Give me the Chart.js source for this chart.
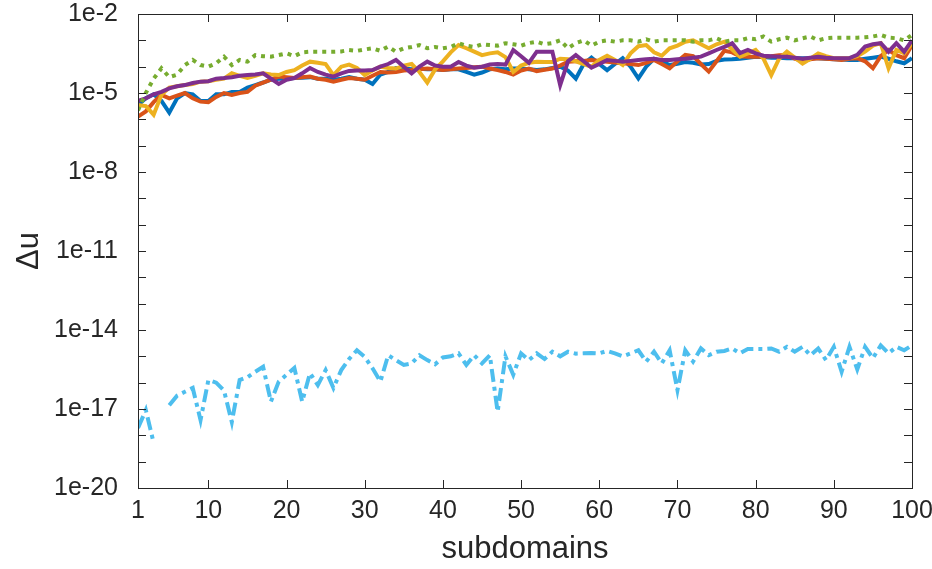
<!DOCTYPE html>
<html>
<head>
<meta charset="utf-8">
<script src="https://cdn.jsdelivr.net/npm/chart.js@4.4.1/dist/chart.umd.min.js"></script>
<style>
  html, body { margin: 0; padding: 0; background: #fff; }
  #wrap { width: 932px; height: 569px; }
</style>
</head>
<body>
<div id="wrap"><canvas id="chart" width="932" height="569"></canvas></div>
<script>
// x categories: subdomain index 1..100
var subdomains = Array.from({ length: 100 }, function (_, i) { return i + 1; });
var xTicks = [1, 10, 20, 30, 40, 50, 60, 70, 80, 90, 100];
var yTickExps = [-20, -19, -18, -17, -16, -15, -14, -13, -12, -11, -10, -9, -8, -7, -6, -5, -4, -3, -2];
var yLabelExps = [-20, -17, -14, -11, -8, -5, -2];

var blueVals = [3.5e-6, 6.3e-6, 8.9e-6, 5e-6, 1.8e-6, 6.3e-6, 1e-5, 8.9e-6, 5e-6, 5e-6,
  8.9e-6, 8.9e-6, 1.1e-5, 1.1e-5, 1.6e-5, 2e-5, 2.5e-5, 3.2e-5, 3.5e-5, 3.5e-5,
  3.7e-5, 3.8e-5, 4e-5, 3.5e-5, 3.5e-5, 3.2e-5, 3.5e-5, 4e-5, 3.5e-5, 3.2e-5,
  2.2e-5, 5e-5, 6.3e-5, 8.9e-5, 8.5e-5, 7.9e-5, 8.3e-5, 7.9e-5, 7.9e-5, 7.4e-5,
  7.9e-5, 7.9e-5, 6.3e-5, 5e-5, 6e-5, 7.9e-5, 8.5e-5, 7.9e-5, 8.5e-5, 8.5e-5,
  7.9e-5, 7.4e-5, 7.9e-5, 8.9e-5, 1e-4, 7.1e-5, 3.5e-5, 1.26e-4, 2.2e-4, 1.26e-4,
  7.4e-5, 1.26e-4, 2.1e-4, 1e-4, 3.6e-5, 1e-4, 2e-4, 1.6e-4, 1.15e-4, 1.3e-4,
  1.5e-4, 1.4e-4, 1.2e-4, 1.26e-4, 1.66e-4, 1.86e-4, 1.9e-4, 2e-4, 2.2e-4, 2.4e-4,
  2.35e-4, 2.2e-4, 2.2e-4, 2.1e-4, 2.1e-4, 2.1e-4, 2.1e-4, 2.1e-4, 2e-4, 1.9e-4,
  1.86e-4, 1.8e-4, 1.8e-4, 2e-4, 2.2e-4, 2.4e-4, 2e-4, 1.6e-4, 1.35e-4, 2.1e-4];

var orangeVals = [1.26e-6, 2e-6, 4.5e-6, 8.5e-6, 6.3e-6, 7.9e-6, 1e-5, 6.3e-6, 4.7e-6, 4.5e-6,
  7.1e-6, 1e-5, 8.5e-6, 1e-5, 1.1e-5, 1.9e-5, 2.5e-5, 3.2e-5, 4.2e-5, 4e-5,
  3.7e-5, 4e-5, 4.2e-5, 3.5e-5, 3.2e-5, 2.7e-5, 3.2e-5, 3.7e-5, 3.5e-5, 3.2e-5,
  4.5e-5, 6.3e-5, 6e-5, 6.3e-5, 7.1e-5, 7.4e-5, 7.9e-5, 8.5e-5, 7.9e-5, 7.4e-5,
  7.9e-5, 8.5e-5, 8.9e-5, 9.5e-5, 1e-4, 8.5e-5, 7.4e-5, 6.3e-5, 5e-5, 7.1e-5,
  8.5e-5, 6.8e-5, 7.6e-5, 8.5e-5, 1.1e-4, 1.55e-4, 1.6e-4, 1.66e-4, 1.8e-4, 1.66e-4,
  1.55e-4, 1.45e-4, 1.35e-4, 1.26e-4, 1.15e-4, 1.4e-4, 1.8e-4, 1.26e-4, 8.7e-5, 1.6e-4,
  2.8e-4, 2.5e-4, 1.26e-4, 6.5e-5, 1.6e-4, 4e-4, 3.5e-4, 2.5e-4, 2.4e-4, 2.4e-4,
  2.4e-4, 2.5e-4, 2.7e-4, 2.75e-4, 2e-4, 1.6e-4, 1.9e-4, 2.1e-4, 2e-4, 1.9e-4,
  1.8e-4, 2e-4, 2.1e-4, 1.6e-4, 8.7e-5, 2.5e-4, 4.3e-4, 2.75e-4, 2.1e-4, 6.6e-4];

var yellowVals = [3.5e-6, 3.2e-6, 1.5e-6, 8.5e-6, 1.6e-5, 1.8e-5, 2e-5, 2.2e-5, 2.7e-5, 2.8e-5,
  3.2e-5, 3.5e-5, 5.6e-5, 4.5e-5, 3.7e-5, 4.5e-5, 5.6e-5, 5e-5, 4.8e-5, 6.3e-5,
  7.4e-5, 1.1e-4, 1.55e-4, 1.4e-4, 1.26e-4, 4.8e-5, 1e-4, 1.2e-4, 8.9e-5, 4.8e-5,
  7.1e-5, 1e-4, 8.9e-5, 8.5e-5, 1.1e-4, 1.26e-4, 6.3e-5, 2.5e-5, 7.9e-5, 1.6e-4,
  3.5e-4, 6.6e-4, 5e-4, 3.7e-4, 2.75e-4, 3.2e-4, 3.5e-4, 2.3e-4, 6.3e-5, 1.1e-4,
  1.4e-4, 1.55e-4, 1.5e-4, 1.5e-4, 2e-4, 1.9e-4, 1.6e-4, 1.26e-4, 1e-4, 1.8e-4,
  2.6e-4, 1.8e-4, 1.15e-4, 3.2e-4, 6e-4, 6.6e-4, 3.5e-4, 2.6e-4, 5e-4, 6.3e-4,
  8.9e-4, 1e-3, 7.1e-4, 5e-4, 7.1e-4, 8.9e-4, 4.5e-4, 2.4e-4, 3.2e-4, 4.3e-4,
  2e-4, 4.8e-5, 2e-4, 3.7e-4, 2.2e-4, 1.3e-4, 2e-4, 3.2e-4, 2.5e-4, 2.1e-4,
  2.1e-4, 2.1e-4, 2.5e-4, 3.7e-4, 6.3e-4, 7.8e-4, 8.7e-5, 4.3e-4, 3.2e-4, 7.8e-4];

var purpleVals = [5e-6, 6.3e-6, 8.9e-6, 1.1e-5, 1.5e-5, 1.8e-5, 2e-5, 2.4e-5, 2.7e-5, 2.8e-5,
  3.5e-5, 3.7e-5, 4e-5, 4.5e-5, 4.8e-5, 5e-5, 5.6e-5, 3.5e-5, 2.2e-5, 3.2e-5,
  3.7e-5, 5.6e-5, 8.9e-5, 6.3e-5, 5e-5, 4.2e-5, 5.6e-5, 6.9e-5, 7.1e-5, 7.2e-5,
  7.4e-5, 1e-4, 1.26e-4, 1.8e-4, 1e-4, 5.6e-5, 1e-4, 1.55e-4, 1.1e-4, 1e-4,
  1e-4, 1.5e-4, 1.1e-4, 9.1e-5, 1e-4, 1.2e-4, 1.26e-4, 1.2e-4, 4.3e-4, 2.5e-4,
  1.4e-4, 3.7e-4, 3.7e-4, 3.7e-4, 2e-5, 1.6e-4, 2.75e-4, 1.6e-4, 9.1e-5, 1.26e-4,
  1.8e-4, 1.66e-4, 1.55e-4, 1.66e-4, 1.8e-4, 1.9e-4, 2e-4, 1.8e-4, 1.8e-4, 1.9e-4,
  2e-4, 2.2e-4, 2.4e-4, 3.2e-4, 4.3e-4, 5.6e-4, 7.8e-4, 3.3e-4, 4.3e-4, 3.2e-4,
  2.6e-4, 2.5e-4, 2.4e-4, 2.4e-4, 2.2e-4, 2e-4, 2.2e-4, 2.4e-4, 2.2e-4, 2.1e-4,
  2.1e-4, 2.1e-4, 2.8e-4, 5.8e-4, 7.1e-4, 7.8e-4, 3.7e-4, 7.8e-4, 3.7e-4, 1e-3];

var greenVals = [2.2e-6, 1e-5, 3.5e-5, 8.7e-5, 4e-5, 5e-5, 1.15e-4, 1.8e-4, 1.15e-4, 1e-4,
  1.35e-4, 2.4e-4, 1.15e-4, 1.8e-4, 1.55e-4, 2.75e-4, 2.5e-4, 2.4e-4, 2.75e-4, 3.2e-4,
  2.5e-4, 3.5e-4, 3.7e-4, 3.7e-4, 3.7e-4, 3.7e-4, 3.8e-4, 4.3e-4, 4e-4, 4.5e-4,
  5e-4, 4e-4, 5.8e-4, 3.7e-4, 5e-4, 5.6e-4, 6.6e-4, 5e-4, 5.6e-4, 5e-4,
  5.6e-4, 7.8e-4, 6.3e-4, 5.6e-4, 7.1e-4, 6.6e-4, 6.3e-4, 7.8e-4, 7.1e-4, 6.3e-4,
  7.9e-4, 8.9e-4, 7.1e-4, 7.9e-4, 1e-3, 5e-4, 7.9e-4, 1e-3, 6.3e-4, 8.9e-4,
  1e-3, 8.9e-4, 1e-3, 1e-3, 8.9e-4, 1.1e-3, 8.9e-4, 1e-3, 1e-3, 1e-3,
  1e-3, 8.9e-4, 1e-3, 1e-3, 1.2e-3, 8.9e-4, 1e-3, 1e-3, 1.2e-3, 1.1e-3,
  1.4e-3, 8.9e-4, 1.1e-3, 1.26e-3, 1e-3, 1.2e-3, 1.4e-3, 1e-3, 1.2e-3, 1.26e-3,
  1.26e-3, 1.26e-3, 1.26e-3, 1.3e-3, 1.4e-3, 1.6e-3, 1.26e-3, 1.2e-3, 1e-3, 1.6e-3];

var cyanVals = [1.9e-18, 9.1e-18, 5.2e-19, null, 1.4e-17, 3.2e-17, 4.5e-17, 6.3e-17, 3.8e-18, 1.26e-16,
  1e-16, 5e-17, 3.2e-18, 1.26e-16, 1.6e-16, 2.6e-16, 4e-16, 1.9e-17, 1.1e-16, 2e-16,
  3.6e-16, 1.9e-17, 2.3e-16, 8.1e-17, 3e-16, 6.3e-17, 3e-16, 7.9e-16, 1.7e-15, 9.5e-16,
  3.5e-16, 1.1e-16, 1.1e-15, 7.1e-16, 4.7e-16, 5.4e-16, 1.1e-15, 7.2e-16, 5e-16, 9.1e-16,
  1e-15, 1.3e-15, 4.7e-16, 1.1e-15, 5.4e-16, 1.1e-15, 7.9e-18, 1e-15, 2e-16, 1.3e-15,
  7.2e-16, 1.3e-15, 7.9e-16, 1.5e-15, 1e-15, 1.5e-15, 1.26e-15, 1.3e-15, 1.35e-15, 1.3e-15,
  1.6e-15, 1.3e-15, 1e-15, 1.3e-15, 1.7e-15, 6.3e-16, 1.5e-15, 5.4e-16, 1.7e-15, 5.2e-17,
  1.7e-15, 6.3e-16, 2e-15, 1.1e-15, 1.5e-15, 1.6e-15, 2e-15, 1.3e-15, 1.9e-15, 1.9e-15,
  1.9e-15, 2e-15, 1.5e-15, 2.3e-15, 1.5e-15, 2.3e-15, 1.1e-15, 2e-15, 7.2e-16, 2.3e-15,
  2.6e-16, 2.3e-15, 3.2e-16, 2.3e-15, 8.5e-16, 2.6e-15, 1.3e-15, 2.3e-15, 1.7e-15, 2.6e-15];

function pts(vals) {
  return vals.map(function (v, i) { return { x: subdomains[i], y: v }; });
}

var axisColor = '#262626';
var tickFont = { family: 'Liberation Sans, Arial, sans-serif', size: 25 };
var titleFont = { family: 'Liberation Sans, Arial, sans-serif', size: 31 };

// box + inward tick marks on all four sides, MATLAB style
var framePlugin = {
  id: 'frame',
  afterDatasetsDraw: function (chart) {
    var ctx = chart.ctx, a = chart.chartArea, x = chart.scales.x, y = chart.scales.y;
    var len = 8;
    ctx.save();
    ctx.strokeStyle = axisColor;
    ctx.lineWidth = 1;
    ctx.beginPath();
    xTicks.forEach(function (v) {
      var px = Math.round(x.getPixelForValue(v)) + 0.5;
      ctx.moveTo(px, a.bottom); ctx.lineTo(px, a.bottom - len);
      ctx.moveTo(px, a.top); ctx.lineTo(px, a.top + len);
    });
    yTickExps.forEach(function (e) {
      var py = Math.round(y.getPixelForValue(Math.pow(10, e))) + 0.5;
      ctx.moveTo(a.left, py); ctx.lineTo(a.left + len, py);
      ctx.moveTo(a.right, py); ctx.lineTo(a.right - len, py);
    });
    ctx.stroke();
    ctx.strokeRect(Math.round(a.left) + 0.5, Math.round(a.top) + 0.5, Math.round(a.width), Math.round(a.height));
    ctx.restore();
  }
};

function line(label, vals, color, order, dash) {
  return {
    label: label,
    data: pts(vals),
    borderColor: color,
    backgroundColor: color,
    borderWidth: 4,
    borderDash: dash || [],
    borderCapStyle: 'butt',
    borderJoinStyle: 'miter',
    pointRadius: 0,
    fill: false,
    tension: 0,
    spanGaps: false,
    order: order
  };
}

new Chart(document.getElementById('chart'), {
  type: 'line',
  data: {
    datasets: [
      line('blue', blueVals, '#0072BD', 6),
      line('orange', orangeVals, '#D95319', 5),
      line('yellow', yellowVals, '#EDB120', 4),
      line('purple', purpleVals, '#7E2F8E', 3),
      line('green', greenVals, '#77AC30', 2, [4, 5]),
      line('cyan', cyanVals, '#4DBEEE', 1, [13, 5, 4, 5])
    ]
  },
  options: {
    responsive: false,
    devicePixelRatio: 1,
    animation: false,
    layout: { padding: { top: 14, right: 20, left: 0, bottom: 0 } },
    plugins: { legend: { display: false }, tooltip: { enabled: false } },
    scales: {
      x: {
        type: 'linear',
        min: 1,
        max: 100,
        afterBuildTicks: function (s) { s.ticks = xTicks.map(function (v) { return { value: v }; }); },
        afterFit: function (s) { s.height = 81; s.paddingLeft = 0; s.paddingRight = 0; },
        grid: { display: false, drawTicks: false },
        border: { display: false },
        ticks: { font: tickFont, color: axisColor, padding: 8, maxRotation: 0, autoSkip: false },
        title: { display: true, text: 'subdomains', font: titleFont, color: axisColor, padding: { top: 0, bottom: 1 } }
      },
      y: {
        type: 'logarithmic',
        min: 1e-20,
        max: 1e-2,
        afterBuildTicks: function (s) { s.ticks = yTickExps.map(function (e) { return { value: Math.pow(10, e) }; }); },
        afterFit: function (s) { s.width = 138; s.paddingTop = 0; s.paddingBottom = 0; },
        grid: { display: false, drawTicks: false },
        border: { display: false },
        ticks: {
          font: tickFont, color: axisColor, padding: 20, autoSkip: false,
          callback: function (v) {
            var e = Math.round(Math.log10(v));
            return yLabelExps.indexOf(e) >= 0 ? '1e' + e : '';
          }
        },
        title: { display: true, text: 'Δu', font: titleFont, color: axisColor, padding: { top: 11, bottom: 0 } }
      }
    }
  },
  plugins: [framePlugin]
});
</script>
</body>
</html>
